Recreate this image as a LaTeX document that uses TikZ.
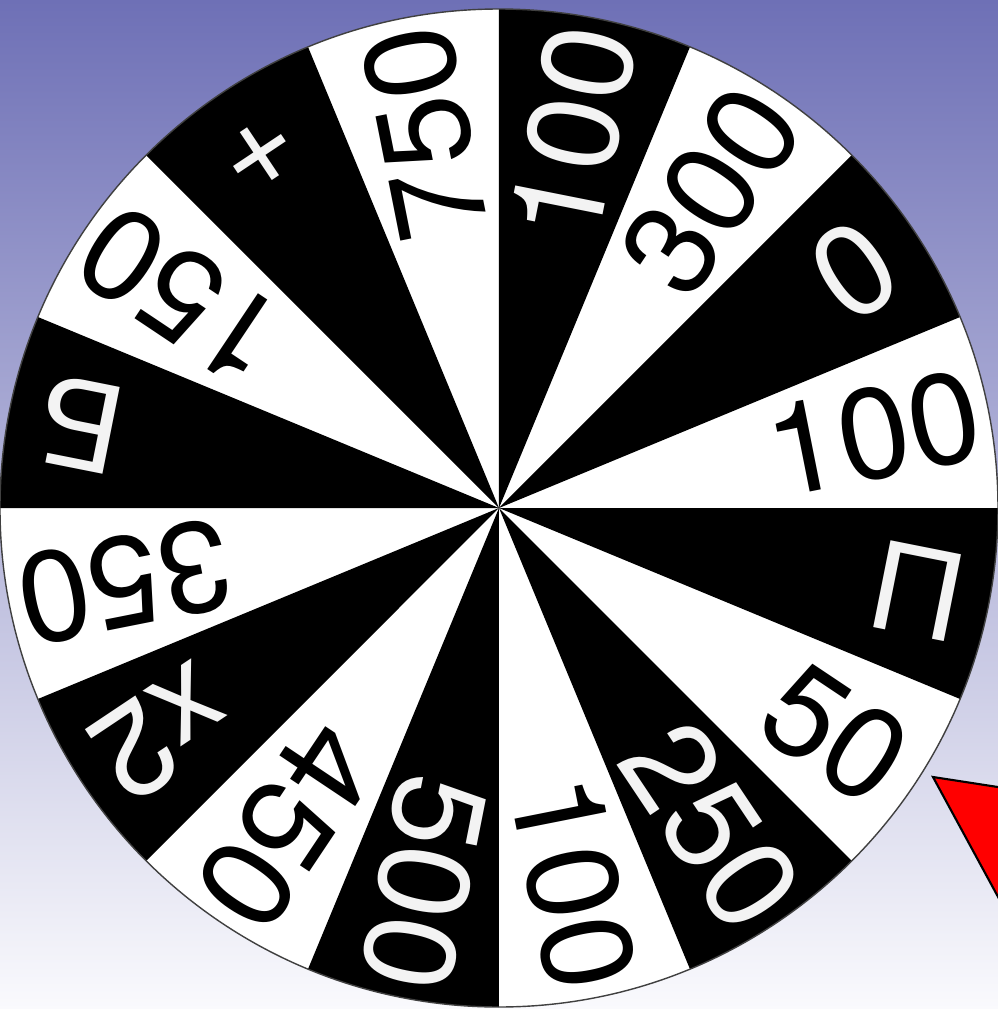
\documentclass[tikz,border=0pt]{standalone}
\usepackage{fontspec}
\setmainfont{TeX Gyre Heros}
\newfontfamily\cyrfont{Liberation Sans}
\usepackage{xcolor}
\usetikzlibrary{positioning}
\definecolor{bgtop}{RGB}{110,112,182}
\definecolor{bgbottom}{RGB}{250,250,253}
\definecolor{ptrred}{RGB}{255,0,0}
\definecolor{offwhite}{RGB}{243,243,243}

\begin{document}
\begin{tikzpicture}[
  numtxt/.style={font=\fontsize{36.6}{40}\selectfont,inner sep=0pt},
  rim/.style={draw=black!75,line width=0.4pt},
  pointer/.style={draw=black,line width=0.6pt,fill=ptrred,line join=miter}
]
  \useasboundingbox (-4.99,-5.01) rectangle (4.99,5.08);
  \clip (-4.99,-5.01) rectangle (4.99,5.08);
  \shade[top color=bgtop,bottom color=bgbottom] (-4.99,-5.01) rectangle (4.99,5.08);
  \fill[white] (0,0) circle[radius=4.99];
  \foreach \a in {22.5,67.5,...,337.5}{
    \fill[black] (0,0) -- (\a:4.99) arc[start angle=\a,end angle=\a+22.5,radius=4.99] -- cycle;
  }
  \draw[rim] (0,0) circle[radius=4.99];
  \foreach \a/\t/\r [count=\k] in {11.25/100/3.82,56.25/300/3.82,101.25/750/3.82,146.25/150/3.82,
      191.25/350/3.82,236.25/450/3.82,281.25/100/3.82,326.25/50/4.05}{
    \node[numtxt,text=black,rotate=\a] (w\k) at (\a:\r) {\t};
  }
  \foreach \a/\t/\r [count=\k] in {33.75/0/4.27,78.75/100/3.82,123.75/+/4.27,168.75/{\cyrfont Б}/4.27,
      213.75/x2/4.05,258.75/500/3.82,303.75/250/3.82,348.75/{\cyrfont П}/4.27}{
    \node[numtxt,text=offwhite,rotate=\a] (b\k) at (\a:\r) {\t};
  }
  \draw[pointer] (4.34,-2.69) -- (5.61,-2.886) -- (5.61,-5.03) -- cycle;
\end{tikzpicture}
\end{document}
